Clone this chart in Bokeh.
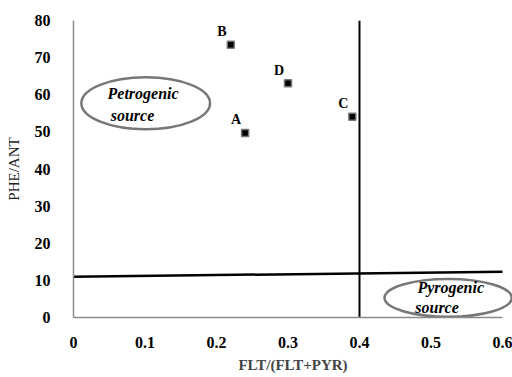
from bokeh.plotting import figure
from bokeh.models import ColumnDataSource, Label, Range1d
from bokeh.core.properties import value
from bokeh.embed import file_html
from bokeh.resources import INLINE

# data
sites = ["A", "B", "C", "D"]
flt_ratio = [0.24, 0.22, 0.39, 0.30]
phe_ant = [49.7, 73.5, 54.1, 63.1]

x_ticks = [0, 0.1, 0.2, 0.3, 0.4, 0.5, 0.6]
y_ticks = [0, 10, 20, 30, 40, 50, 60, 70, 80]

# source boundaries
flt_boundary_x = [0.4, 0.4]
flt_boundary_y = [0, 80]
phe_boundary_x = [0, 0.6]
phe_boundary_y = [11.0, 12.3]

# source regions (ellipse: centre x, centre y, width, height)
region_x = [0.101, 0.524]
region_y = [57.7, 5.3]
region_w = [0.180, 0.178]
region_h = [14.0, 10.2]

SERIF = "Liberation Serif"

p = figure(
    frame_width=439, frame_height=297,
    min_border_left=73, min_border_right=0, min_border_top=20, min_border_bottom=60,
    x_range=Range1d(0, 0.614), y_range=Range1d(0, 80),
    output_backend="svg", toolbar_location=None,
)
p.outline_line_color = None
p.xgrid.grid_line_color = None
p.ygrid.grid_line_color = None

for ax in (p.xaxis[0], p.yaxis[0]):
    ax.axis_line_color = "#8a8a8a"
    ax.axis_line_width = 1.5
    ax.major_tick_line_color = None
    ax.minor_tick_line_color = None
    ax.major_label_text_font = SERIF
    ax.major_label_text_font_style = "bold"
    ax.major_label_text_font_size = "16px"
    ax.major_label_text_color = "black"

p.xaxis.ticker = x_ticks
p.xaxis.bounds = (0, 0.6)
p.xaxis.major_label_standoff = 13
p.xaxis.major_label_overrides = {0: "0", 0.1: "0.1", 0.2: "0.2", 0.3: "0.3",
                                 0.4: "0.4", 0.5: "0.5", 0.6: "0.6"}
p.yaxis.ticker = y_ticks
p.yaxis.major_label_standoff = 17

p.xaxis.axis_label = "FLT/(FLT+PYR)"
p.xaxis.axis_label_text_font = SERIF
p.xaxis.axis_label_text_font_style = "bold"
p.xaxis.axis_label_text_font_size = "15px"
p.xaxis.axis_label_standoff = 6

p.yaxis.axis_label = "PHE/ANT"
p.yaxis.axis_label_text_font = SERIF
p.yaxis.axis_label_text_font_style = "normal"
p.yaxis.axis_label_text_font_size = "15px"
p.yaxis.axis_label_text_color = "#222222"
p.yaxis.axis_label_standoff = 10
try:
    p.yaxis.axis_label_align = "right"
except Exception:
    pass

# regions
p.ellipse(x=region_x, y=region_y, width=region_w, height=region_h,
          fill_color=None, line_color="#777777", line_width=2.5)

# boundaries
p.line(flt_boundary_x, flt_boundary_y, line_color="black", line_width=2)
p.line(phe_boundary_x, phe_boundary_y, line_color="black", line_width=2.5)

# points
src = ColumnDataSource(dict(x=flt_ratio, y=phe_ant, name=sites))
p.scatter("x", "y", source=src, marker="square", size=7,
          fill_color="black", line_color="#777777", line_width=1.5)
p.text("x", "y", text="name", source=src, x_offset=-9, y_offset=-13,
       text_font=value(SERIF), text_font_style="bold", text_font_size="14px",
       text_align="center", text_baseline="middle", text_color="black")

def region_text(x, y, t):
    p.add_layout(Label(x=x, y=y, text=t, text_font=SERIF, text_font_style="bold italic",
                       text_font_size="16px", text_align="left", text_baseline="middle",
                       text_color="black"))

region_text(0.0476, 60.3, "Petrogenic")
region_text(0.052, 54.4, "source")
region_text(0.481, 8.0, "Pyrogenic")
region_text(0.478, 2.6, "source")

open("out.html", "w").write(file_html(p, INLINE))
